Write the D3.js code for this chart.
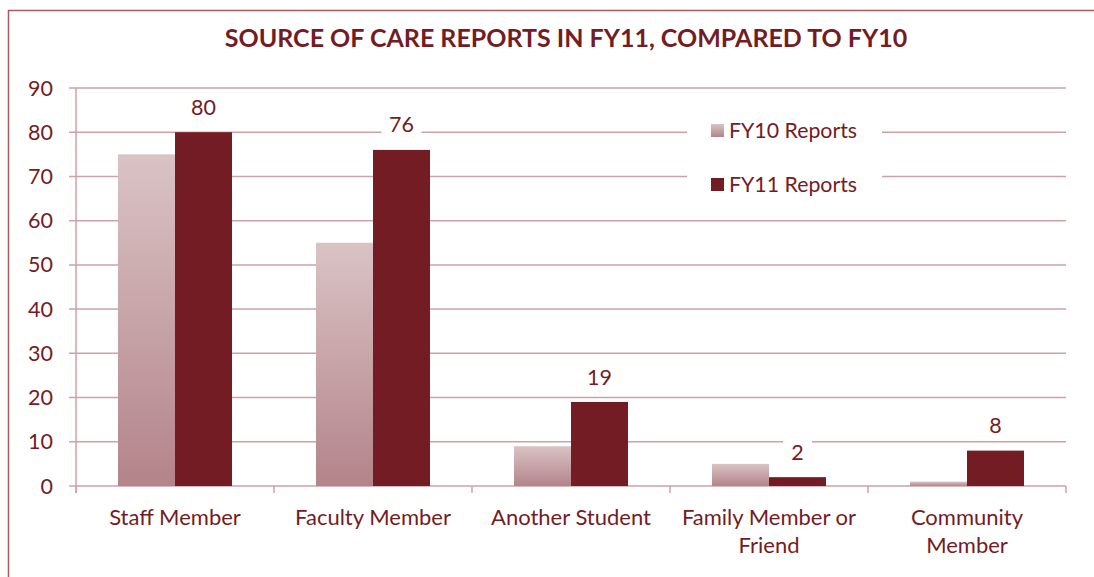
<!DOCTYPE html>
<html><head><meta charset="utf-8">
<script src="https://cdn.jsdelivr.net/npm/d3@7"></script>
<style>body{margin:0;background:#fff}svg{display:block}</style>
</head><body>
<svg id="c" width="1094" height="577"></svg>
<script>
const categories = [["Staff Member"],["Faculty Member"],["Another Student"],["Family Member or","Friend"],["Community","Member"]];
const fy10 = [75, 55, 9, 5, 1];
const fy11 = [80, 76, 19, 2, 8];
const yTicks = [0,10,20,30,40,50,60,70,80,90];
const seriesNames = ["FY10 Reports","FY11 Reports"];
const title = "SOURCE OF CARE REPORTS IN FY11, COMPARED TO FY10";

const svg = d3.select("#c");
const font = "Lato, 'Open Sans', sans-serif";
const dark = "#741c24", grid = "#cda2a6", txt = "#741c24";

const defs = svg.append("defs");
const g1 = defs.append("linearGradient").attr("id","g10").attr("x1",0).attr("y1",0).attr("x2",0).attr("y2",1);
g1.append("stop").attr("offset","0%").attr("stop-color","#dac3c5");
g1.append("stop").attr("offset","100%").attr("stop-color","#b3848a");

svg.append("rect").attr("x",8.5).attr("y",10.5).attr("width",1100).attr("height",600)
  .attr("fill","none").attr("stroke","#a45c62").attr("stroke-width",1.5);

const x = d3.scaleBand().domain(d3.range(categories.length)).range([76,1066]).paddingInner(0).paddingOuter(0);
const y = d3.scaleLinear().domain([0,90]).range([486,88]);
const bw = 57;

// gridlines
svg.append("g").selectAll("line").data(yTicks).join("line")
  .attr("x1",69).attr("x2",1066).attr("y1",d=>y(d)).attr("y2",d=>y(d))
  .attr("stroke",grid).attr("stroke-width",1.5);
svg.append("line").attr("x1",76).attr("x2",76).attr("y1",88).attr("y2",493).attr("stroke",grid).attr("stroke-width",1.5);
svg.append("g").selectAll("line").data(d3.range(categories.length+1)).join("line")
  .attr("x1",d=>76+d*x.bandwidth()).attr("x2",d=>76+d*x.bandwidth()).attr("y1",486).attr("y2",493)
  .attr("stroke",grid).attr("stroke-width",1.5);

svg.append("g").selectAll("text").data(yTicks).join("text")
  .attr("x",53).attr("y",d=>y(d)).attr("dy","0.35em").attr("text-anchor","end")
  .attr("font-family",font).attr("font-size",21.5).attr("fill",txt).text(d=>d);

// bars
const cx = i => x(i)+x.bandwidth()/2;
svg.append("g").selectAll("rect").data(fy10).join("rect")
  .attr("x",(d,i)=>cx(i)-bw).attr("width",bw).attr("y",d=>y(d)).attr("height",d=>y(0)-y(d))
  .attr("fill","url(#g10)");
svg.append("g").selectAll("rect").data(fy11).join("rect")
  .attr("x",(d,i)=>cx(i)).attr("width",bw).attr("y",d=>y(d)).attr("height",d=>y(0)-y(d))
  .attr("fill",dark);

// data labels with white background
const lab = svg.append("g").selectAll("g").data(fy11).join("g")
  .attr("transform",(d,i)=>`translate(${cx(i)+bw/2},${y(d)-25})`);
lab.append("rect").attr("x",d=>-(String(d).length*11+18)/2).attr("width",d=>String(d).length*11+18)
  .attr("y",-13).attr("height",26).attr("fill","#fff");
lab.append("text").attr("text-anchor","middle").attr("dy","0.35em")
  .attr("font-family",font).attr("font-size",21.5).attr("fill",txt).text(d=>d);

// x labels
svg.append("g").selectAll("text").data(categories).join("text")
  .attr("x",(d,i)=>cx(i)).attr("y",525).attr("text-anchor","middle")
  .attr("font-family",font).attr("font-size",22).attr("fill",txt)
  .each(function(d){ d3.select(this).selectAll("tspan").data(d).join("tspan")
    .attr("x",d3.select(this).attr("x")).attr("dy",(t,j)=>j?28:0).text(t=>t); });

// legend
const leg = svg.append("g");
leg.append("rect").attr("x",687).attr("y",108).attr("width",195).attr("height",95).attr("fill","#fff");
const li = leg.selectAll("g").data(seriesNames).join("g").attr("transform",(d,i)=>`translate(711,${131+i*54})`);
li.append("rect").attr("x",0).attr("y",-7).attr("width",13).attr("height",13)
  .attr("fill",(d,i)=>i?dark:"url(#g10)");
li.append("text").attr("x",18).attr("dy","0.35em").attr("font-family",font).attr("font-size",21.3)
  .attr("fill",txt).text(d=>d);

svg.append("text").attr("x",566).attr("y",47).attr("text-anchor","middle")
  .attr("font-family",font).attr("font-weight","bold").attr("font-size",25).attr("fill",dark).text(title);
</script>
</body></html>
